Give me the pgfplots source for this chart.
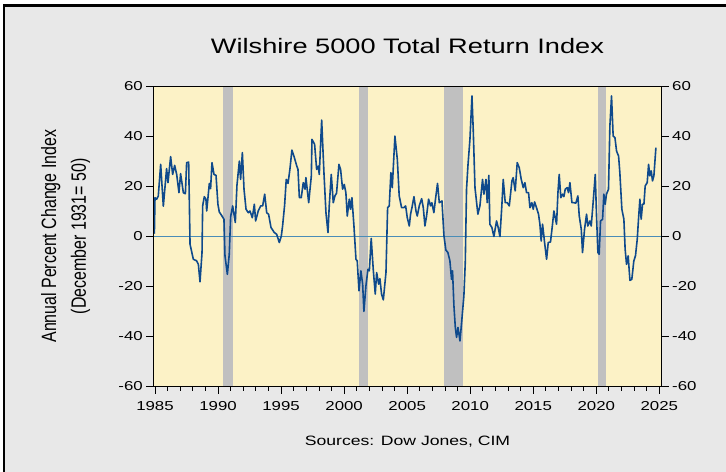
\documentclass[border=0pt]{standalone}
\usepackage{fontspec}
\setmainfont{Liberation Sans}[FakeStretch=1.3]
\newfontfamily\plainsans{Liberation Sans}
\usepackage{graphicx}
\usepackage{pgfplots}
\usepackage{pgfplotstable}
\pgfplotsset{compat=1.18}
\usepackage{xcolor}
\definecolor{frameGray}{HTML}{E8E8E8}
\definecolor{plotYellow}{HTML}{FCF2C6}
\definecolor{bandGray}{HTML}{C0C0C0}
\definecolor{lineBlue}{HTML}{0F4A8C}
\definecolor{zeroBlue}{HTML}{4A8DB7}

% annual % change, Wilshire 5000 total return
\pgfplotstableread{
year chg
1984.95 1.0
1985.00 15.4
1985.13 14.8
1985.26 16.0
1985.45 28.7
1985.66 12.0
1985.92 27.0
1986.03 21.4
1986.24 31.8
1986.40 24.7
1986.56 28.3
1986.72 24.7
1986.90 17.4
1987.03 25.0
1987.25 17.4
1987.41 17.0
1987.51 29.4
1987.67 29.6
1987.78 -3.2
1988.04 -9.2
1988.30 -9.8
1988.44 -11.2
1988.57 -18.2
1988.73 -6.5
1988.78 12.1
1988.91 15.8
1989.04 14.8
1989.10 10.1
1989.31 21.1
1989.41 19.0
1989.52 29.4
1989.68 24.7
1989.84 24.3
1989.99 12.8
1990.10 9.7
1990.31 8.1
1990.47 6.8
1990.55 -7.8
1990.74 -15.2
1990.89 -7.2
1991.00 7.8
1991.16 12.1
1991.37 5.5
1991.50 20.3
1991.69 30.0
1991.79 22.7
1991.93 33.4
1992.06 18.8
1992.22 10.8
1992.40 9.4
1992.53 10.1
1992.72 7.4
1992.88 12.8
1992.98 6.1
1993.19 10.1
1993.38 12.1
1993.54 12.1
1993.70 16.8
1993.86 9.4
1994.01 8.8
1994.20 3.5
1994.46 1.5
1994.65 0.8
1994.86 -2.5
1995.02 0.1
1995.12 4.1
1995.28 12.4
1995.41 22.7
1995.55 21.1
1995.70 26.7
1995.86 34.4
1996.02 32.0
1996.23 28.3
1996.34 26.7
1996.45 15.4
1996.60 15.4
1996.76 21.4
1996.90 18.8
1996.97 23.4
1997.19 13.4
1997.40 24.1
1997.45 38.7
1997.66 36.7
1997.82 26.7
1997.95 28.0
1998.03 24.7
1998.22 46.4
1998.40 25.4
1998.56 9.4
1998.72 1.5
1998.82 12.1
1998.98 24.7
1999.14 13.4
1999.27 16.1
1999.40 17.2
1999.59 28.7
1999.72 26.7
1999.88 18.8
2000.01 20.7
2000.14 17.4
2000.25 8.1
2000.41 14.8
2000.51 10.8
2000.62 15.4
2000.78 4.1
2000.94 -9.2
2001.04 -9.8
2001.18 -21.8
2001.33 -13.8
2001.47 -19.1
2001.57 -30.0
2001.73 -19.8
2001.89 -13.2
2002.00 -13.8
2002.15 -0.9
2002.31 -13.2
2002.47 -23.1
2002.58 -14.5
2002.74 -19.1
2002.84 -16.9
2002.97 -23.1
2003.11 -25.4
2003.32 -14.5
2003.45 11.4
2003.58 12.1
2003.71 25.4
2003.82 19.4
2004.03 40.0
2004.22 30.7
2004.37 16.1
2004.56 11.4
2004.74 11.4
2004.88 12.1
2005.01 7.4
2005.17 4.1
2005.27 8.8
2005.38 11.4
2005.54 15.8
2005.70 10.1
2005.80 8.1
2005.96 12.1
2006.15 15.0
2006.28 11.4
2006.41 4.1
2006.54 8.1
2006.70 14.8
2006.86 12.1
2006.96 13.4
2007.12 9.4
2007.23 14.1
2007.41 21.1
2007.55 13.4
2007.76 14.1
2007.92 0.1
2008.07 -5.5
2008.23 -6.5
2008.39 -9.8
2008.52 -17.2
2008.60 -13.8
2008.71 -27.8
2008.82 -36.4
2008.92 -40.4
2009.03 -36.4
2009.19 -41.8
2009.32 -34.4
2009.50 -23.8
2009.61 -10.5
2009.71 18.8
2009.82 28.1
2009.98 38.7
2010.14 56.0
2010.24 42.7
2010.38 19.4
2010.61 8.8
2010.77 12.1
2010.98 22.7
2011.09 16.8
2011.25 22.7
2011.35 13.4
2011.48 24.3
2011.56 4.8
2011.72 3.5
2011.88 -0.1
2012.09 6.1
2012.22 3.5
2012.36 -0.1
2012.51 12.1
2012.62 22.7
2012.78 13.4
2012.94 13.4
2013.10 12.1
2013.31 22.1
2013.41 23.4
2013.57 18.1
2013.73 29.4
2013.89 27.4
2014.05 22.7
2014.21 19.4
2014.34 21.4
2014.47 17.4
2014.63 17.4
2014.74 11.4
2014.89 13.4
2015.00 10.8
2015.11 13.7
2015.26 11.4
2015.42 8.8
2015.53 4.8
2015.63 -1.9
2015.74 4.8
2015.90 -2.5
2016.06 -9.2
2016.19 -2.5
2016.37 -2.3
2016.53 4.8
2016.64 10.1
2016.85 4.8
2016.96 17.4
2017.06 24.7
2017.19 15.4
2017.33 16.8
2017.43 15.8
2017.54 18.8
2017.70 19.4
2017.80 17.4
2017.91 21.4
2018.07 13.4
2018.22 13.4
2018.38 13.2
2018.54 16.1
2018.65 8.1
2018.81 2.8
2018.91 -6.5
2019.07 2.8
2019.23 8.8
2019.33 4.1
2019.49 6.1
2019.60 4.1
2019.76 14.1
2019.92 24.7
2020.02 8.1
2020.13 -6.5
2020.23 -7.2
2020.34 6.1
2020.50 6.8
2020.60 16.8
2020.71 12.8
2020.81 16.8
2020.97 18.8
2021.08 44.0
2021.21 56.0
2021.34 40.0
2021.48 39.4
2021.61 34.0
2021.77 32.0
2021.87 25.4
2022.03 10.8
2022.19 6.8
2022.29 -5.2
2022.40 -11.2
2022.53 -7.8
2022.67 -17.6
2022.82 -17.2
2022.98 -9.8
2023.11 -7.8
2023.25 -1.2
2023.35 6.8
2023.46 14.8
2023.56 6.8
2023.67 12.8
2023.78 12.8
2023.88 20.1
2024.04 21.4
2024.15 28.7
2024.25 24.1
2024.36 26.1
2024.46 22.1
2024.57 24.1
2024.73 35.4
}\wilshire

\pgfplotsset{
    wilbox/.style={
        at={(0,0)}, anchor=south west,
        scale only axis,
        width=508.4bp, height=300.5bp,
        xmin=1984.865, xmax=2025.19,
        ymin=-60, ymax=60,
        ytick={-60,-40,...,60},
        axis line style={black, line width=0.9bp},
        tick style={black, line width=0.8bp},
        tick align=outside,
        major tick length=7bp,
        minor tick length=4bp,
        tick label style={font=\fontsize{13}{15}\selectfont},
        /pgf/number format/assume math mode=true,
        /pgf/number format/1000 sep={},
        clip=false,
    }
}

\begin{document}
\begin{tikzpicture}
    \path[use as bounding box] (-153.3bp,-85.5bp) rectangle (572.7bp,386.5bp);
    \fill[white] (-153.3bp,-85.5bp) rectangle (572.7bp,386.5bp);
    \fill[frameGray] (-150.3bp,-85.5bp) rectangle (572.7bp,382.5bp);
    \draw[black, line width=2.6bp, line join=miter]
        (-149.3bp,-85.5bp) -- (-149.3bp,381.2bp) -- (572.7bp,381.2bp);

    \begin{axis}[
        wilbox,
        axis background/.style={fill=plotYellow},
        xtick={1985,1990,...,2025},
        minor x tick num=4,
        xtick pos=bottom,
        ytick pos=left,
        xticklabel style={yshift=-4bp},
    ]
    % recession bands
    \addplot[fill=bandGray, draw=none] coordinates {(1990.42,-60) (1990.42,60) (1991.21,60) (1991.21,-60)} -- cycle;
    \addplot[fill=bandGray, draw=none] coordinates {(2001.20,-60) (2001.20,60) (2001.86,60) (2001.86,-60)} -- cycle;
    \addplot[fill=bandGray, draw=none] coordinates {(2007.92,-60) (2007.92,60) (2009.40,60) (2009.40,-60)} -- cycle;
    \addplot[fill=bandGray, draw=none] coordinates {(2020.10,-60) (2020.10,60) (2020.74,60) (2020.74,-60)} -- cycle;
    % zero line
    \addplot[zeroBlue, line width=0.8bp] coordinates {(1984.865,0) (2025.19,0)};
    \addplot[lineBlue, line width=1.6bp, line join=round] table[x=year, y=chg] {\wilshire};

    \node[anchor=base, font=\fontsize{21}{24}\selectfont] at (rel axis cs:0.5,1.1082) {Wilshire 5000 Total Return Index};
    \node[anchor=base, font=\fontsize{13.6}{16}\selectfont] at (rel axis cs:0.5,-0.1947) {Sources: Dow Jones, CIM};
    \node[rotate=90, anchor=center] at (rel axis cs:-0.1737,0.5)
        {\scalebox{1}[1.3]{\plainsans\fontsize{16}{23}\selectfont\begin{tabular}{@{}c@{}}Annual Percent Change Index\\(December 1931= 50)\end{tabular}}};
    \end{axis}

    \begin{axis}[
        wilbox,
        xtick=\empty,
        ytick pos=right,
        yticklabel pos=right,
    ]
    \end{axis}
\end{tikzpicture}
\end{document}
